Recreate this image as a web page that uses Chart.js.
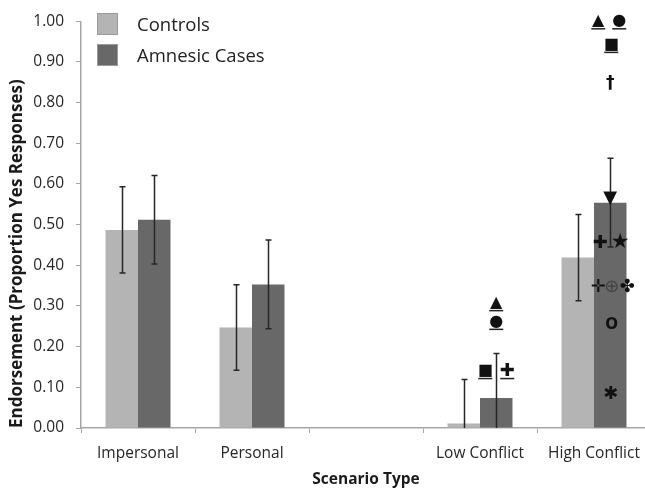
<!DOCTYPE html>
<html>
<head>
<meta charset="utf-8">
<script src="https://cdn.jsdelivr.net/npm/chart.js@4.4.0/dist/chart.umd.min.js"></script>
<style>
  html, body { margin: 0; padding: 0; background: #fff; overflow: hidden; }
  #wrap { width: 655px; height: 489px; }
</style>
</head>
<body>
<div id="wrap"><canvas id="chart"></canvas></div>
<script>
// data
const categories = ['Impersonal', 'Personal', '', 'Low Conflict', 'High Conflict'];
const controls = [0.487, 0.247, null, 0.011, 0.419];
const amnesic = [0.512, 0.353, null, 0.074, 0.554];
const controlsErr = [0.106, 0.105, null, 0.108, 0.106];
const amnesicErr = [0.109, 0.109, null, 0.109, 0.109];
const yTicks = [0, 0.1, 0.2, 0.3, 0.4, 0.5, 0.6, 0.7, 0.8, 0.9, 1.0];

// individual case markers (drawn over the amnesic bars)
const markerCats = ['Low Conflict', 'Low Conflict', 'Low Conflict', 'Low Conflict',
    'High Conflict', 'High Conflict', 'High Conflict', 'High Conflict', 'High Conflict', 'High Conflict',
    'High Conflict', 'High Conflict', 'High Conflict', 'High Conflict', 'High Conflict', 'High Conflict'];
const markerValues = [0.307, 0.261, 0.140, 0.140,
    1.0, 1.0, 0.942, 0.847, 0.564, 0.455, 0.455, 0.346, 0.346, 0.346, 0.254, 0.082];
const markerGlyphs = ['▲', '●', '■', '✚', '▲', '●', '■', '†', '▼', '✚', '★', '✛', '⊕', '✤', 'O', '✱'];
const markerUnderlined = [true, true, true, true, true, true, true, false, false, false, false, false, false, false, false, false];

// small horizontal nudges so glyphs sit side by side (px)
const markerNudge = [0, 0, -11, 11, -12, 9, 1, 0, 0, -10, 10, -12, 1.5, 17, 1.5, 0.5];
const glyphFonts = {
    'O': 'bold 15px "DejaVu Sans"',
    '†': 'bold 17px "DejaVu Sans"',
    '★': '21px "DejaVu Sans"',
    '▼': '18px "DejaVu Sans"',
    '✚': '18px "DejaVu Sans"',
    '✛': '18px "DejaVu Sans"',
    '⊕': '18px "DejaVu Sans"',
    '✤': '18px "DejaVu Sans"',
    '✱': '18px "DejaVu Sans"'
};

const errs = [controlsErr, amnesicErr];

const errorBars = {
    id: 'errorBars',
    afterDatasetsDraw(chart) {
        const ctx = chart.ctx, area = chart.chartArea, y = chart.scales.y;
        ctx.save();
        ctx.beginPath();
        ctx.rect(area.left, 0, area.width, area.bottom);
        ctx.clip();
        ctx.strokeStyle = '#262626';
        ctx.lineWidth = 1.5;
        chart.data.datasets.forEach((ds, di) => {
            chart.getDatasetMeta(di).data.forEach((bar, i) => {
                const v = ds.data[i], e = errs[di][i];
                if (v == null || e == null) return;
                const x = Math.round(bar.x) + 0.5;
                const top = y.getPixelForValue(v + e);
                const bot = y.getPixelForValue(v - e);
                ctx.beginPath();
                ctx.moveTo(x, top);
                ctx.lineTo(x, bot);
                ctx.moveTo(x - 3, top);
                ctx.lineTo(x + 3, top);
                if (v - e >= 0) {
                    ctx.moveTo(x - 3, bot);
                    ctx.lineTo(x + 3, bot);
                }
                ctx.stroke();
            });
        });
        ctx.restore();

        // markers
        const meta = chart.getDatasetMeta(1);
        ctx.save();
        ctx.textAlign = 'center';
        ctx.textBaseline = 'middle';
        markerGlyphs.forEach((g, i) => {
            const ci = categories.indexOf(markerCats[i]);
            const x = meta.data[ci].x + markerNudge[i];
            const py = y.getPixelForValue(markerValues[i]);
            ctx.fillStyle = g === '⊕' ? '#444' : '#111';
            ctx.font = glyphFonts[g] || '16px "DejaVu Sans"';
            ctx.fillText(g, x, py);
            if (markerUnderlined[i]) {
                ctx.strokeStyle = '#222';
                ctx.lineWidth = 1.5;
                ctx.beginPath();
                ctx.moveTo(x - 7, py + 7.5);
                ctx.lineTo(x + 7, py + 7.5);
                ctx.stroke();
            }
        });
        ctx.restore();
    },
    afterDraw(chart) {
        // legend in the top-left of the plot
        const ctx = chart.ctx, area = chart.chartArea;
        ctx.save();
        ctx.font = '18.5px "Open Sans"';
        ctx.textBaseline = 'middle';
        chart.data.datasets.forEach((ds, i) => {
            const bx = area.left + 16, by = 13 + i * 31;
            ctx.fillStyle = ds.backgroundColor;
            ctx.fillRect(bx, by, 21, 22);
            ctx.strokeStyle = '#9a9a9a';
            ctx.lineWidth = 1;
            ctx.strokeRect(bx + 0.5, by + 0.5, 20, 21);
            ctx.fillStyle = '#222';
            ctx.fillText(ds.label, bx + 40, by + 13);
        });
        ctx.restore();
    }
};

const ctx = document.getElementById('chart');
new Chart(ctx, {
    type: 'bar',
    data: {
        labels: categories,
        datasets: [
            { label: 'Controls', data: controls, backgroundColor: '#b4b4b4' },
            { label: 'Amnesic Cases', data: amnesic, backgroundColor: '#686868' }
        ]
    },
    options: {
        responsive: true,
        maintainAspectRatio: false,
        animation: false,
        layout: { padding: { top: 15, right: 4, left: 0, bottom: 0 } },
        datasets: { bar: { categoryPercentage: 0.57, barPercentage: 1.0 } },
        plugins: { legend: { display: false }, tooltip: { enabled: false } },
        scales: {
            x: {
                grid: { drawOnChartArea: false, offset: true, tickLength: 5, color: '#a6a6a6' },
                border: { color: '#a6a6a6', width: 1.5 },
                ticks: { color: '#262626', padding: 11, font: { family: 'Open Sans', size: 15.5 } },
                title: {
                    display: true, text: 'Scenario Type', color: '#1a1a1a',
                    font: { family: 'Open Sans', size: 15.5, weight: 'bold' }, padding: { top: 0, bottom: 0 }
                },
                afterFit: (scale) => { scale.height = 61; }
            },
            y: {
                min: 0, max: 1,
                afterBuildTicks: (scale) => { scale.ticks = yTicks.map(v => ({ value: v })); },
                grid: { drawOnChartArea: false, tickLength: 5, color: '#a6a6a6' },
                border: { color: '#a6a6a6', width: 1.5 },
                ticks: {
                    color: '#262626', padding: 12, font: { family: 'Open Sans', size: 15.5 },
                    callback: (v) => Number(v).toFixed(2)
                },
                title: {
                    display: true, text: 'Endorsement (Proportion Yes Responses)', color: '#1a1a1a', align: 'start',
                    font: { family: 'Open Sans', size: 17, weight: 'bold' }, padding: { top: 7, bottom: 0 }
                },
                afterFit: (scale) => { scale.width = 81; }
            }
        }
    },
    plugins: [errorBars]
});
</script>
</body>
</html>
